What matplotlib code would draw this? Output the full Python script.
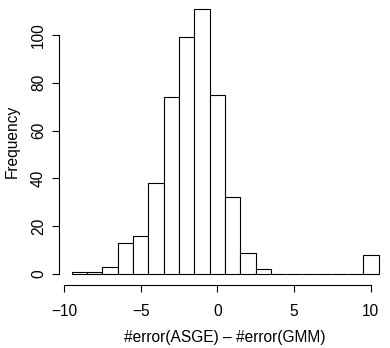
import matplotlib
matplotlib.use("Agg")
import matplotlib.pyplot as plt
import numpy as np

plt.rcParams['font.family'] = ['Liberation Sans', 'DejaVu Sans']

bin_centers = [-9, -8, -7, -6, -5, -4, -3, -2, -1, 0, 1, 2, 3, 4, 5, 6, 7, 8, 9, 10]
counts = [1, 1, 3, 13, 16, 38, 74, 99, 111, 75, 32, 9, 2, 0, 0, 0, 0, 0, 0, 8]
x_ticks = [-10, -5, 0, 5, 10]
y_ticks = [0, 20, 40, 60, 80, 100]
xlabel = "#error(ASGE) \u2013 #error(GMM)"
ylabel = "Frequency"

edges = np.arange(min(bin_centers) - 0.5, max(bin_centers) + 1.5, 1.0)

fig = plt.figure(figsize=(3.9, 3.48), dpi=100)
ax = fig.add_axes([0.152, 0.182, 0.850, 0.824])
ax.hist(bin_centers, bins=edges, weights=counts, facecolor='white',
        edgecolor='black', linewidth=0.8)

span = edges[-1] - edges[0]
ax.set_xlim(edges[0] - 0.04 * span, edges[-1] + 0.04 * span)
ymax = max(counts)
ax.set_ylim(-0.04 * ymax, ymax * 1.04)

for s in ['top', 'right']:
    ax.spines[s].set_visible(False)
ax.spines['left'].set_bounds(y_ticks[0], y_ticks[-1])
ax.spines['bottom'].set_bounds(x_ticks[0], x_ticks[-1])
ax.spines['left'].set_linewidth(0.8)
ax.spines['bottom'].set_linewidth(0.8)
ax.set_xticks(x_ticks)
ax.set_yticks(y_ticks)
fs = 11.2
ax.set_xticklabels([str(v).replace('-', '\u2212') for v in x_ticks], fontsize=fs)
ax.set_yticklabels([str(v) for v in y_ticks], fontsize=fs, rotation=90, va='center')
ax.tick_params(direction='out', length=5, width=0.8)
ax.tick_params(axis='x', pad=9)
ax.tick_params(axis='y', pad=4.5)
ax.set_xlabel(xlabel, fontsize=fs, labelpad=7.5)
ax.set_ylabel(ylabel, fontsize=fs, labelpad=8)

fig.savefig("out.png", dpi=100)
